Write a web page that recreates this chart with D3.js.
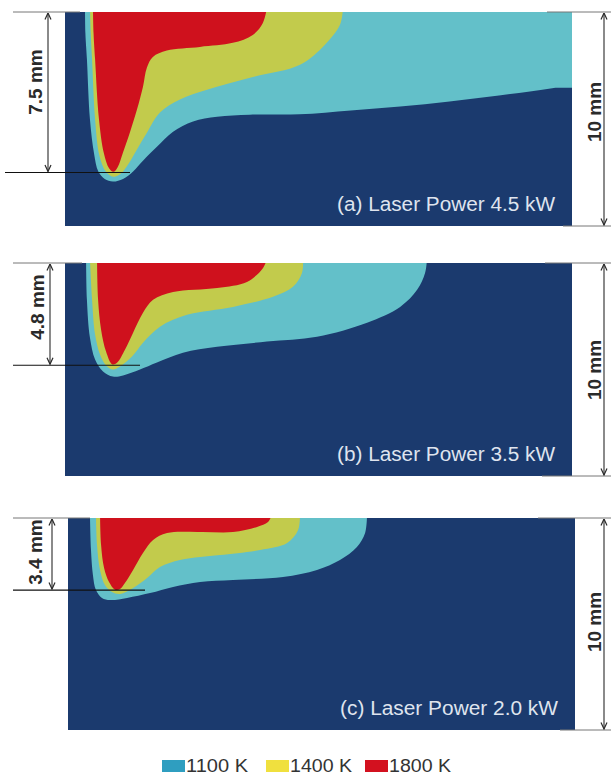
<!DOCTYPE html>
<html>
<head>
<meta charset="utf-8">
<script src="https://cdn.jsdelivr.net/npm/d3@7"></script>
<style>
  body { margin: 0; background: #fff; }
  text { font-family: "Liberation Sans", Arial, sans-serif; }
</style>
</head>
<body>
<script>
const width = 611;
const height = 775;
const color = {
    base: "#1b3a6e",
    k1100: "#63c0c9",
    k1400: "#c2cb4c",
    k1800: "#cf111d",
    legend: ["#2f9ec0", "#f0e03e", "#d3111f"],
    dim: "#2a2a2a",
    tick: "#777",
    label: "#dfe4ee"
};

// plate size in mm (height is the 10 mm dimension)
const plateWidth = 23.6;
const plateDepth = [10, 10, 10];
const poolDepth = [7.5, 4.8, 3.4];
const panelLabels = ["(a) Laser Power 4.5 kW", "(b) Laser Power 3.5 kW", "(c) Laser Power 2.0 kW"];
const legendLabels = ["1100 K", "1400 K", "1800 K"];

// isotherm outlines, [x mm, depth mm]
const iso1100A = [[0.93, -0.2], [0.95, 1], [1.02, 2.2], [1.16, 5.0], [1.35, 6.6], [1.55, 7.45], [1.85, 7.8], [2.23, 7.92], [2.7, 7.8], [3.17, 7.45], [3.63, 6.95], [4.28, 6.3], [5.03, 5.6], [5.96, 5.12], [7.08, 4.9], [8.6, 4.8], [10.9, 4.78], [13.3, 4.6], [15.6, 4.42], [17.9, 4.18], [20.2, 3.9], [22.6, 3.57], [24.2, 3.3], [24.2, -0.2]];
const iso1400A = [[1.16, -0.2], [1.2, 1], [1.26, 2.2], [1.4, 5.0], [1.6, 6.7], [1.9, 7.45], [2.25, 7.7], [2.6, 7.55], [2.95, 7.1], [3.35, 6.42], [3.82, 5.63], [4.42, 4.7], [5.35, 4.09], [6.61, 3.63], [8.61, 3.07], [10.94, 2.47], [12.1, 1.53], [12.8, 0.6], [12.94, -0.2]];
const iso1800A = [[1.3, -0.2], [1.33, 1], [1.4, 2.2], [1.58, 5.0], [1.81, 6.6], [2.05, 7.3], [2.25, 7.47], [2.45, 7.25], [2.7, 6.56], [3.02, 5.63], [3.35, 4.56], [3.63, 3.49], [3.81, 2.6], [4.09, 2.1], [4.74, 1.8], [6.28, 1.63], [7.81, 1.44], [8.74, 1.07], [9.21, 0.51], [9.4, -0.2]];

const iso1100B = [[0.98, -0.2], [1.02, 1.73], [1.16, 3.5], [1.4, 4.53], [1.77, 5.09], [2.23, 5.33], [2.7, 5.28], [3.49, 5.0], [4.28, 4.67], [5.49, 4.21], [7.08, 3.93], [9.4, 3.69], [11.73, 3.46], [14.06, 2.8], [15.6, 2.06], [16.39, 1.26], [16.76, 0.47], [16.85, -0.2]];
const iso1400B = [[1.16, -0.2], [1.26, 1.73], [1.4, 3.36], [1.63, 4.3], [1.91, 4.81], [2.23, 5.0], [2.56, 4.86], [3.12, 4.39], [3.63, 3.74], [4.42, 2.99], [5.68, 2.43], [7.82, 2.06], [9.68, 1.59], [10.61, 1.12], [11.03, 0.47], [11.08, -0.2]];
const iso1800B = [[1.49, -0.2], [1.54, 1.73], [1.68, 3.13], [1.91, 4.16], [2.19, 4.75], [2.42, 4.68], [2.79, 4.07], [3.17, 3.27], [3.63, 2.34], [4.1, 1.73], [5.03, 1.36], [7.08, 1.17], [8.47, 0.89], [9.22, 0.23], [9.4, -0.2]];

const iso1100C = [[1.02, -0.2], [1.07, 1.51], [1.16, 2.69], [1.3, 3.4], [1.58, 3.77], [1.96, 3.87], [2.75, 3.77], [3.82, 3.54], [4.89, 3.25], [6.15, 3.02], [7.68, 2.92], [10.01, 2.78], [11.59, 2.45], [12.66, 1.98], [13.45, 1.37], [13.83, 0.71], [13.92, -0.2]];
const iso1400C = [[1.3, -0.2], [1.35, 1.27], [1.49, 2.45], [1.72, 3.16], [2.05, 3.49], [2.42, 3.58], [3.03, 3.3], [3.68, 2.83], [4.28, 2.31], [5.21, 1.98], [6.15, 1.84], [7.08, 1.75], [8.94, 1.51], [10.2, 1.18], [10.71, 0.57], [10.8, -0.2]];
const iso1800C = [[1.49, -0.2], [1.54, 1.27], [1.68, 2.36], [1.91, 3.02], [2.19, 3.38], [2.42, 3.35], [2.65, 3.07], [3.03, 2.45], [3.49, 1.65], [3.96, 1.04], [4.61, 0.71], [6.15, 0.66], [7.68, 0.66], [8.8, 0.42], [9.31, 0.19], [9.5, -0.2]];

const isoSets = [
    [iso1100A, iso1400A, iso1800A],
    [iso1100B, iso1400B, iso1800B],
    [iso1100C, iso1400C, iso1800C]
];
const isoFills = [color.k1100, color.k1400, color.k1800];

// page layout of the three panels
const layout = [
    {left: 65, right: 572, top: 12, bottom: 226, arrowX: 48, topTickEnd: 80, depthStart: 5, depthEnd: 130, dimLabel: [35, 82], rTop: 547, rBottom: 563, rLabelY: 112},
    {left: 65, right: 572, top: 263, bottom: 476, arrowX: 50, topTickEnd: 82, depthStart: 13, depthEnd: 140, dimLabel: [37, 307], rTop: 545, rBottom: 542, rLabelY: 370},
    {left: 68, right: 575, top: 518, bottom: 730, arrowX: 52, topTickEnd: 90, depthStart: 13, depthEnd: 145, dimLabel: [35, 552], rTop: 538, rBottom: 560, rLabelY: 622}
];

let svg = d3.select("body").append("svg")
    .attr("width", width)
    .attr("height", height);

let defs = svg.append("defs");
defs.append("marker")
    .attr("id", "arrow")
    .attr("viewBox", "0 0 8 8")
    .attr("refX", 7.5)
    .attr("refY", 4)
    .attr("markerWidth", 8)
    .attr("markerHeight", 8)
    .attr("markerUnits", "userSpaceOnUse")
    .attr("orient", "auto-start-reverse")
    .append("path")
    .attr("d", "M1,1 L7.5,4 L1,7")
    .attr("fill", "none")
    .attr("stroke", color.dim)
    .attr("stroke-width", 1.2);

let line = d3.line()
    .x(d => d[0])
    .y(d => d[1])
    .curve(d3.curveCatmullRom.alpha(0.5));

layout.forEach(function (p, i) {
    let x = d3.scaleLinear().domain([0, plateWidth]).range([p.left, p.right]);
    let y = d3.scaleLinear().domain([0, plateDepth[i]]).range([p.top, p.bottom]);

    defs.append("clipPath")
        .attr("id", "clip" + i)
        .append("rect")
        .attr("x", p.left)
        .attr("y", p.top)
        .attr("width", p.right - p.left)
        .attr("height", p.bottom - p.top);

    let panel = svg.append("g").attr("clip-path", "url(#clip" + i + ")");
    panel.append("rect")
        .attr("x", p.left)
        .attr("y", p.top)
        .attr("width", p.right - p.left)
        .attr("height", p.bottom - p.top)
        .attr("fill", color.base);

    panel.selectAll("path.iso")
        .data(isoSets[i])
        .enter()
        .append("path")
        .attr("class", "iso")
        .attr("fill", (d, k) => isoFills[k])
        .attr("d", d => line(d.map(pt => [x(pt[0]), y(pt[1])])) + "Z");

    svg.append("text")
        .attr("x", p.right - 17)
        .attr("y", p.bottom - 15)
        .attr("text-anchor", "end")
        .attr("font-size", 20)
        .attr("textLength", 218)
        .attr("lengthAdjust", "spacingAndGlyphs")
        .attr("fill", color.label)
        .text(panelLabels[i]);

    // left dimension: pool depth
    let dim = svg.append("g");
    dim.append("line")
        .attr("x1", 13).attr("x2", p.topTickEnd)
        .attr("y1", y(0)).attr("y2", y(0))
        .attr("stroke", color.tick).attr("stroke-width", 1);
    dim.append("line")
        .attr("x1", p.depthStart).attr("x2", p.depthEnd)
        .attr("y1", y(poolDepth[i])).attr("y2", y(poolDepth[i]))
        .attr("stroke", "#111").attr("stroke-width", 1.2);
    dim.append("line")
        .attr("x1", p.arrowX).attr("x2", p.arrowX)
        .attr("y1", y(0) + 1).attr("y2", y(poolDepth[i]) - 1)
        .attr("stroke", color.dim).attr("stroke-width", 1.1)
        .attr("marker-start", "url(#arrow)")
        .attr("marker-end", "url(#arrow)");
    dim.append("text")
        .attr("transform", "translate(" + p.dimLabel[0] + "," + p.dimLabel[1] + ")rotate(-90)")
        .attr("text-anchor", "middle")
        .attr("dominant-baseline", "central")
        .attr("font-size", 19)
        .attr("font-weight", "bold")
        .attr("fill", color.dim)
        .text(poolDepth[i].toFixed(1) + " mm");

    // right dimension: plate depth
    dim.append("line")
        .attr("x1", p.rTop).attr("x2", width)
        .attr("y1", y(0)).attr("y2", y(0))
        .attr("stroke", color.tick).attr("stroke-width", 1);
    dim.append("line")
        .attr("x1", p.rBottom).attr("x2", width)
        .attr("y1", y(plateDepth[i])).attr("y2", y(plateDepth[i]))
        .attr("stroke", color.tick).attr("stroke-width", 1);
    dim.append("line")
        .attr("x1", 604).attr("x2", 604)
        .attr("y1", y(0) + 1).attr("y2", y(plateDepth[i]) - 1)
        .attr("stroke", color.dim).attr("stroke-width", 1.1)
        .attr("marker-start", "url(#arrow)")
        .attr("marker-end", "url(#arrow)");
    dim.append("text")
        .attr("transform", "translate(594," + p.rLabelY + ")rotate(-90)")
        .attr("text-anchor", "middle")
        .attr("dominant-baseline", "central")
        .attr("font-size", 19)
        .attr("font-weight", "bold")
        .attr("fill", color.dim)
        .text(plateDepth[i] + " mm");
});

// legend
const legendX = [162, 266, 365];
let legend = svg.append("g");
legendLabels.forEach(function (lab, k) {
    legend.append("rect")
        .attr("x", legendX[k])
        .attr("y", 760)
        .attr("width", 23)
        .attr("height", 12)
        .attr("fill", color.legend[k]);
    legend.append("text")
        .attr("x", legendX[k] + 24)
        .attr("y", 772)
        .attr("font-size", 18)
        .attr("textLength", 62)
        .attr("lengthAdjust", "spacingAndGlyphs")
        .attr("fill", "#333")
        .text(lab);
});
</script>
</body>
</html>
